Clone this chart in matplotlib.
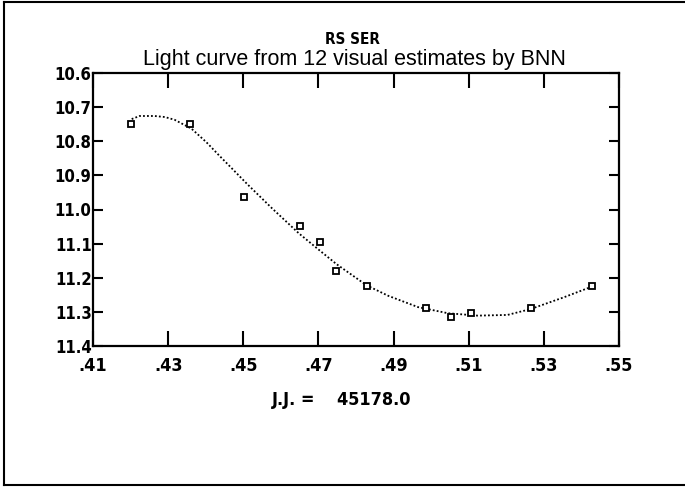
import matplotlib
matplotlib.use("Agg")
import matplotlib.pyplot as plt
from matplotlib.lines import Line2D
from matplotlib import font_manager

# visual estimates (fraction of day after JD 2445178.0, magnitude)
jd_frac = [0.4201, 0.4359, 0.4502, 0.4650, 0.4703, 0.4748,
           0.4830, 0.4986, 0.5053, 0.5105, 0.5267, 0.5428]
mag = [10.75, 10.75, 10.964, 11.049, 11.096, 11.18,
       11.225, 11.289, 11.316, 11.304, 11.289, 11.225]

# smoothed light curve as drawn
curve_x = [0.4203, 0.4224, 0.4264, 0.4291, 0.4317, 0.4362, 0.4402, 0.4436,
           0.4470, 0.4510, 0.4576, 0.4648, 0.4701, 0.4748, 0.4828, 0.4886,
           0.4965, 0.5045, 0.5124, 0.5203, 0.5264, 0.5354, 0.5423, 0.5431]
curve_y = [10.735, 10.726, 10.726, 10.729, 10.737, 10.763, 10.803, 10.842,
           10.880, 10.925, 10.996, 11.070, 11.118, 11.160, 11.222, 11.253,
           11.286, 11.304, 11.311, 11.309, 11.292, 11.257, 11.228, 11.222]

x_ticks = [0.41, 0.43, 0.45, 0.47, 0.49, 0.51, 0.53, 0.55]
x_labels = [".41", ".43", ".45", ".47", ".49", ".51", ".53", ".55"]
y_ticks = [10.6, 10.7, 10.8, 10.9, 11.0, 11.1, 11.2, 11.3, 11.4]
y_labels = ["10.6", "10.7", "10.8", "10.9", "11.0", "11.1", "11.2", "11.3", "11.4"]

names = {f.name for f in font_manager.fontManager.ttflist}
if "Liberation Sans Narrow" in names:
    narrow = dict(family=["Liberation Sans Narrow", "DejaVu Sans"])
else:
    narrow = dict(family=["DejaVu Sans"], stretch="condensed")

fig = plt.figure(figsize=(6.85, 4.88), dpi=100)
ax = fig.add_axes([93 / 685, 1 - 346 / 488, 526 / 685, 273 / 488])

ax.plot(curve_x, curve_y, color="black", linestyle=(0, (1, 1.2)), linewidth=1.3)
ax.plot(jd_frac, mag, linestyle="none", marker="s", markersize=4.5,
        markerfacecolor="white", markeredgecolor="black", markeredgewidth=1.3)

ax.set_xlim(0.41, 0.55)
ax.set_ylim(11.4, 10.6)
ax.set_xticks(x_ticks)
ax.set_xticklabels(x_labels)
ax.set_yticks(y_ticks)
ax.set_yticklabels(y_labels)

for s in ax.spines.values():
    s.set_linewidth(1.6)

ax.tick_params(axis="x", direction="in", length=11, width=1.5, top=True,
               pad=8, labelsize=13)
ax.tick_params(axis="y", direction="in", length=7, width=1.5, right=True,
               pad=1, labelsize=12)
for lab in ax.get_xticklabels() + ax.get_yticklabels():
    lab.set_family(narrow["family"])
    lab.set_fontweight("bold")
    if "stretch" in narrow:
        lab.set_fontstretch(narrow["stretch"])

fig.text(352 / 685, 1 - 40 / 488, "RS SER", ha="center", va="center",
         fontweight="bold", fontsize=11, **narrow)
fig.text(354 / 685, 1 - 59 / 488, "Light curve from 12 visual estimates by BNN",
         ha="center", va="center", family=["Liberation Sans", "DejaVu Sans"],
         fontsize=15.5)
fig.text(342 / 685, 1 - 400 / 488, "J.J. =    45178.0", ha="center",
         va="center", fontweight="bold", fontsize=13, **narrow)

# scanned page border
for xs, ys in [([4, 685], [485, 485]), ([4, 4], [2, 485]), ([4, 685], [2, 2])]:
    fig.add_artist(Line2D([x / 685 for x in xs], [1 - y / 488 for y in ys],
                          color="black", linewidth=1.5))

fig.savefig("out.png", dpi=100)
